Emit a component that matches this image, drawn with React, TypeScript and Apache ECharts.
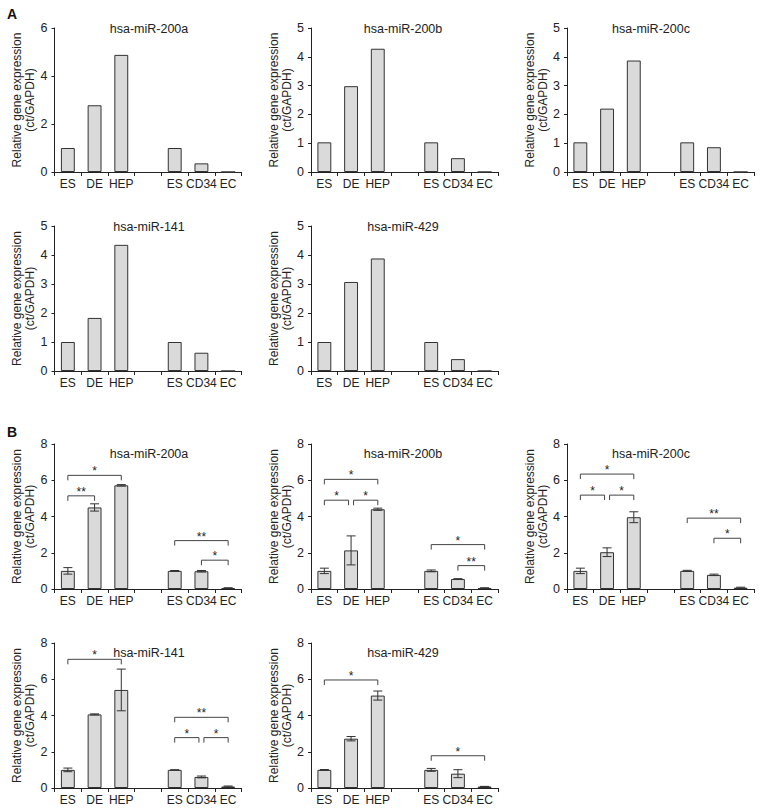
import React, { useEffect, useRef } from 'react';
import * as echarts from 'echarts';

const categories = ['ES', 'DE', 'HEP', '', 'ES', 'CD34', 'EC'];
const titles = ['hsa-miR-200a', 'hsa-miR-200b', 'hsa-miR-200c', 'hsa-miR-141', 'hsa-miR-429'];

// Panel A (single values)
const a200a = [1.0, 2.78, 4.88, null, 1.0, 0.36, 0];
const a200b = [1.03, 2.98, 4.28, null, 1.03, 0.48, 0];
const a200c = [1.03, 2.2, 3.87, null, 1.03, 0.86, 0];
const a141 = [1.0, 1.83, 4.35, null, 1.0, 0.63, 0];
const a429 = [1.0, 3.07, 3.88, null, 1.0, 0.41, 0];

// Panel B (means and errors)
const b200a = [1.0, 4.5, 5.72, null, 1.0, 0.98, 0.05];
const b200aErr = [0.18, 0.2, 0.04, null, 0.02, 0.04, 0.02];
const b200b = [1.0, 2.13, 4.4, null, 1.0, 0.55, 0.05];
const b200bErr = [0.15, 0.8, 0.06, null, 0.05, 0.02, 0.02];
const b200c = [1.0, 2.03, 3.96, null, 1.0, 0.78, 0.07];
const b200cErr = [0.15, 0.24, 0.3, null, 0.03, 0.04, 0.03];
const b141 = [1.0, 4.06, 5.41, null, 1.0, 0.61, 0.08];
const b141Err = [0.1, 0.03, 1.15, null, 0, 0.05, 0.03];
const b429 = [1.0, 2.72, 5.1, null, 1.0, 0.79, 0.08];
const b429Err = [0.02, 0.12, 0.25, null, 0.08, 0.22, 0.01];

// Significance brackets: [fromIndex, toIndex, lineHeight, label]
const sig200a: [number, number, number, string][] = [[0, 2, 6.27, '*'], [0, 1, 5.14, '**'], [4, 6, 2.67, '**'], [5, 6, 1.59, '*']];
const sig200b: [number, number, number, string][] = [[0, 2, 6.05, '*'], [0, 1, 4.9, '*'], [1, 2, 4.9, '*'], [4, 6, 2.45, '*'], [5, 6, 1.29, '**']];
const sig200c: [number, number, number, string][] = [[0, 2, 6.34, '*'], [0, 1, 5.18, '*'], [1, 2, 5.18, '*'], [4, 6, 3.91, '**'], [5, 6, 2.8, '*']];
const sig141: [number, number, number, string][] = [[0, 2, 7.1, '*'], [4, 6, 3.9, '**'], [4, 5, 2.78, '*'], [5, 6, 2.78, '*']];
const sig429: [number, number, number, string][] = [[0, 2, 5.96, '*'], [4, 6, 1.78, '*']];

const yMaxA = [6, 5, 5, 5, 5];
const yIntA = [2, 1, 1, 1, 1];
const yMaxB = 8;
const yIntB = 2;

const FONT = '"Liberation Sans", Arial, Helvetica, sans-serif';
const TXT = '#222';

const colLeft = [54.5, 311, 567];
const colTitleX = [149, 403, 651];
const PW = 187;
const rowsA = [{ top: 28, h: 144 }, { top: 226, h: 145 }];
const rowsB = [{ top: 444, h: 145 }, { top: 643, h: 145 }];

export default function App() {
  const ref = useRef<HTMLDivElement>(null);
  useEffect(() => {
    if (!ref.current) return;
    const chart = echarts.init(ref.current, undefined, { renderer: 'svg' });

    const grids: any[] = [];
    const xAxes: any[] = [];
    const yAxes: any[] = [];
    const series: any[] = [];
    const graphics: any[] = [];

    const aVals = [a200a, a200b, a200c, a141, a429];
    const bVals = [b200a, b200b, b200c, b141, b429];
    const bErrs = [b200aErr, b200bErr, b200cErr, b141Err, b429Err];
    const bSigs = [sig200a, sig200b, sig200c, sig141, sig429];

    const addPanel = (left: number, top: number, h: number, yMax: number, yInt: number, title: string, titleX: number, titleY: number) => {
      const idx = grids.length;
      grids.push({ left, top, width: PW, height: h, containLabel: false });
      xAxes.push({
        type: 'category', gridIndex: idx, data: categories,
        axisLine: { lineStyle: { color: TXT, width: 1 } },
        axisTick: { show: true, length: 4, inside: false, lineStyle: { color: TXT } },
        axisLabel: { interval: 0, margin: 6, color: TXT, fontSize: 12, fontFamily: FONT },
        splitLine: { show: false },
      });
      yAxes.push({
        type: 'value', gridIndex: idx, min: 0, max: yMax, interval: yInt,
        name: 'Relative gene expression\n(ct/GAPDH)', nameLocation: 'middle', nameRotate: 90, nameGap: 18,
        nameTextStyle: { color: TXT, fontSize: 12, fontFamily: FONT, lineHeight: 13 },
        axisLine: { show: true, lineStyle: { color: TXT, width: 1 } },
        axisTick: { show: true, length: 3, lineStyle: { color: TXT } },
        axisLabel: { margin: 7, color: TXT, fontSize: 12.5, fontFamily: FONT },
        splitLine: { show: false },
      });
      graphics.push({
        type: 'text', x: titleX, y: titleY,
        style: { text: title, fill: TXT, font: `12.5px ${FONT}`, textAlign: 'center', textVerticalAlign: 'middle' },
      });
      return idx;
    };

    const barSeries = (idx: number, vals: (number | null)[]) => ({
      type: 'bar', xAxisIndex: idx, yAxisIndex: idx, data: vals, barWidth: '52%',
      itemStyle: { color: '#dadada', borderColor: '#333', borderWidth: 1 },
      z: 2,
    });

    // Panel A
    for (let i = 0; i < 5; i++) {
      const r = rowsA[Math.floor(i / 3)];
      const c = i % 3;
      const idx = addPanel(colLeft[c], r.top, r.h, yMaxA[i], yIntA[i], titles[i], colTitleX[c], r.top + 1);
      series.push(barSeries(idx, aVals[i]));
    }
    // Panel B
    for (let i = 0; i < 5; i++) {
      const r = rowsB[Math.floor(i / 3)];
      const c = i % 3;
      const idx = addPanel(colLeft[c], r.top, r.h, yMaxB, yIntB, titles[i], colTitleX[c], r.top + 9.5);
      series.push(barSeries(idx, bVals[i]));
      const errData: any[] = [];
      bVals[i].forEach((v, k) => {
        const e = bErrs[i][k];
        if (v != null && e != null) errData.push([k, v, e]);
      });
      series.push({
        type: 'custom', xAxisIndex: idx, yAxisIndex: idx, data: errData, z: 5,
        encode: { x: 0, y: 1 },
        renderItem: (params: any, api: any) => {
          const k = api.value(0), m = api.value(1), e = api.value(2);
          const t = api.coord([k, m + e]);
          const b = api.coord([k, m - e]);
          const hw = 4.5;
          const st = { stroke: '#333', lineWidth: 1 };
          return {
            type: 'group', children: [
              { type: 'line', shape: { x1: t[0], y1: t[1], x2: b[0], y2: b[1] }, style: st },
              { type: 'line', shape: { x1: t[0] - hw, y1: t[1], x2: t[0] + hw, y2: t[1] }, style: st },
              { type: 'line', shape: { x1: b[0] - hw, y1: b[1], x2: b[0] + hw, y2: b[1] }, style: st },
            ],
          };
        },
      });
      const sigs = bSigs[i];
      series.push({
        type: 'custom', xAxisIndex: idx, yAxisIndex: idx, z: 6,
        data: sigs.map((s) => [s[0], s[2]]),
        encode: { x: 0, y: 1 },
        renderItem: (params: any, api: any) => {
          const s = sigs[params.dataIndex];
          const p1 = api.coord([s[0], s[2]]);
          const p2 = api.coord([s[1], s[2]]);
          let x1 = p1[0], x2 = p2[0];
          const y = p1[1];
          if (sigs.some((o) => o !== s && o[2] === s[2] && o[0] === s[1])) x2 -= 2.5;
          if (sigs.some((o) => o !== s && o[2] === s[2] && o[1] === s[0])) x1 += 2.5;
          const drop = 5;
          const st = { stroke: '#444', lineWidth: 1, fill: null };
          return {
            type: 'group', children: [
              { type: 'polyline', shape: { points: [[x1, y + drop], [x1, y], [x2, y], [x2, y + drop]] }, style: st },
              {
                type: 'text', x: (x1 + x2) / 2, y: y - 4,
                style: { text: s[3], fill: TXT, font: `12px ${FONT}`, textAlign: 'center', textVerticalAlign: 'middle' },
              },
            ],
          };
        },
      });
    }

    graphics.push({ type: 'text', x: 7, y: 14, style: { text: 'A', fill: '#111', font: `bold 14px ${FONT}`, textAlign: 'left', textVerticalAlign: 'middle' } });
    graphics.push({ type: 'text', x: 7, y: 432, style: { text: 'B', fill: '#111', font: `bold 14px ${FONT}`, textAlign: 'left', textVerticalAlign: 'middle' } });

    chart.setOption({
      animation: false,
      backgroundColor: '#ffffff',
      textStyle: { fontFamily: FONT },
      grid: grids,
      xAxis: xAxes,
      yAxis: yAxes,
      series,
      graphic: graphics,
    });
    return () => chart.dispose();
  }, []);
  return <div ref={ref} style={{ position: 'absolute', left: 0, top: 0, width: 761, height: 812 }} />;
}
